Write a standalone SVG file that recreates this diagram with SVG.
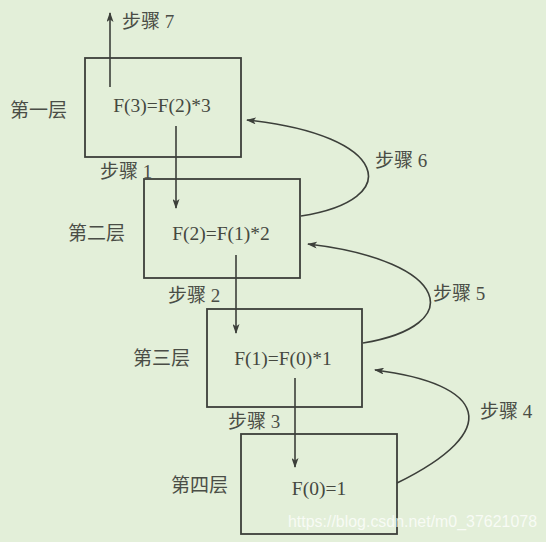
<svg xmlns="http://www.w3.org/2000/svg" width="546" height="542" viewBox="0 0 546 542">
<style>
.box{fill:none;stroke:#3c3f3a;stroke-width:1.8}
.ln{fill:none;stroke:#3c3f3a;stroke-width:1.6}
.f{font-family:"Liberation Serif","Noto Sans CJK SC",serif;font-size:19.5px;fill:#45483f}
.c{font-family:"Liberation Serif","Noto Sans CJK SC",serif;font-size:19px;fill:#4a4d46}
.m{text-anchor:middle}
</style>
<defs>
<marker id="ah" viewBox="0 0 10 7" refX="9" refY="3.5" markerWidth="10" markerHeight="7" markerUnits="userSpaceOnUse" orient="auto">
<path d="M0,0 L10,3.5 L0,7 L2.5,3.5 z" fill="#3c3f3a"/>
</marker>
</defs>
<rect width="546" height="542" fill="#e3efd9"/>
<g id="node1">
<rect class="box" x="85" y="58" width="156" height="99"/>
<text class="f m" x="162" y="112">F(3)=F(2)*3</text>
<text class="c" x="10" y="117">第一层</text>
</g>
<g id="node2">
<rect class="box" x="144" y="179" width="156" height="99"/>
<text class="f m" x="221" y="240">F(2)=F(1)*2</text>
<text class="c" x="68" y="240">第二层</text>
</g>
<g id="node3">
<rect class="box" x="207" y="309" width="155" height="98"/>
<text class="f m" x="283" y="365">F(1)=F(0)*1</text>
<text class="c" x="133" y="365">第三层</text>
</g>
<g id="node4">
<rect class="box" x="241" y="434" width="156" height="100"/>
<text class="f m" x="319" y="495">F(0)=1</text>
<text class="c" x="171" y="492">第四层</text>
</g>
<g id="connectors">
<path class="ln" d="M110,87 V13" marker-end="url(#ah)"/>
<path class="ln" d="M176,126 V208" marker-end="url(#ah)"/>
<path class="ln" d="M236,255 V333" marker-end="url(#ah)"/>
<path class="ln" d="M295,378 V467" marker-end="url(#ah)"/>
<path class="ln" d="M301,216 C405,200 390,135 247,120" marker-end="url(#ah)"/>
<path class="ln" d="M363,343 C467,326 452,261 308,244" marker-end="url(#ah)"/>
<path class="ln" d="M397,483 C505,430 486,384 375,370" marker-end="url(#ah)"/>
</g>
<g id="labels">
<text class="c" x="122" y="28">步骤 7</text>
<text class="c" x="100" y="178">步骤 1</text>
<text class="c" x="168" y="302">步骤 2</text>
<text class="c" x="228" y="428">步骤 3</text>
<text class="c" x="480" y="418">步骤 4</text>
<text class="c" x="433" y="300">步骤 5</text>
<text class="c" x="375" y="167">步骤 6</text>
</g>
<text x="288" y="527" font-family="Liberation Sans,Arial,sans-serif" font-size="16" fill="#ffffff" fill-opacity="0.75" textLength="249" lengthAdjust="spacingAndGlyphs">https://blog.csdn.net/m0_37621078</text>
</svg>
